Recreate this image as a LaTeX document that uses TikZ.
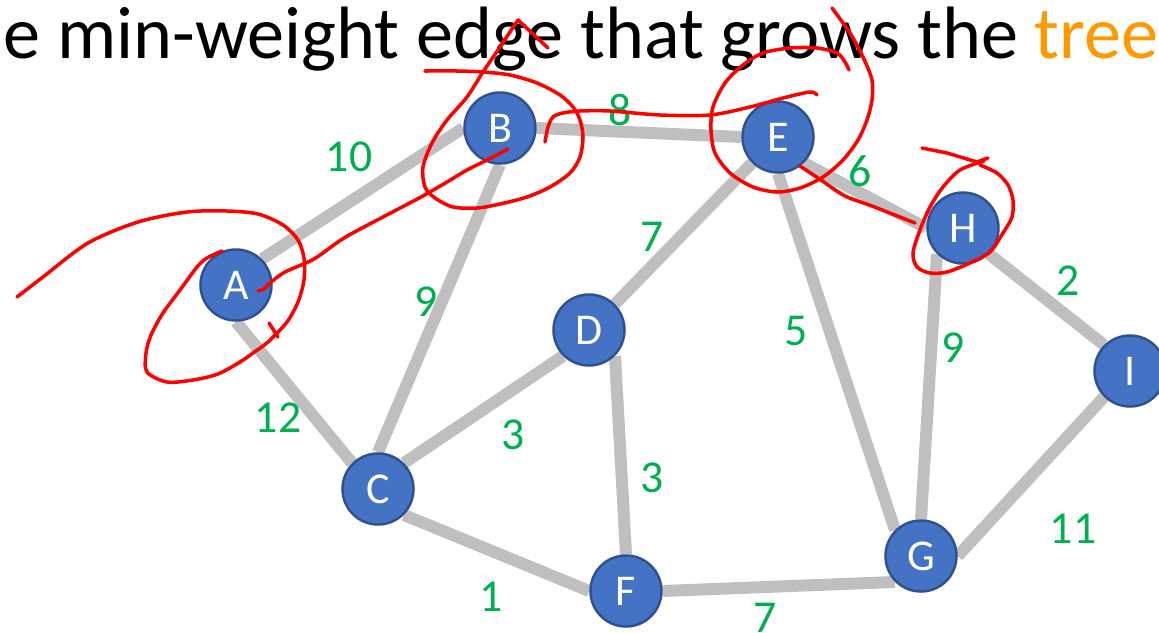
\documentclass[tikz,border=0pt]{standalone}
\usepackage{fontspec}
\setmainfont{Carlito}
\usetikzlibrary{backgrounds}
\definecolor{nodeblue}{HTML}{4472C4}
\definecolor{nodeline}{HTML}{2F528F}
\definecolor{edgegray}{HTML}{BFBFBF}
\definecolor{weightgreen}{HTML}{00B050}
\definecolor{treeorange}{HTML}{FF9900}

\begin{document}
\begin{tikzpicture}[x=0.01cm, y=-0.01cm,
	v/.style={draw=nodeline, line width=0.7pt, circle, fill=nodeblue, text=white, minimum size=7.1mm, inner sep=0pt, font=\fontsize{12.5}{14}\selectfont},
	w/.style={text=weightgreen, inner sep=0pt, font=\fontsize{13}{15}\selectfont},
	e/.style={edgegray, line width=3.4pt},
	ink/.style={red, line width=1pt, line cap=round, line join=round}]
	\useasboundingbox (0,0) rectangle (1159,633);
	\node[anchor=base west, inner sep=0pt, font=\fontsize{21.1}{25}\selectfont] (title) at (3,58) {e min-weight edge that grows the \textcolor{treeorange}{tree}};
	% vertices
	\node[v] (A) at (236,285) {A};
	\node[v] (B) at (500,128) {B};
	\node[v] (C) at (378,489) {C};
	\node[v] (D) at (589,330) {D};
	\node[v] (E) at (778,137) {E};
	\node[v] (F) at (626,591) {F};
	\node[v] (G) at (921,556) {G};
	\node[v] (H) at (963,228) {H};
	\node[v] (I) at (1130,371) {I};
	% edges
	\begin{scope}[on background layer]
	\draw[e] (A.north east) -- (B.west);
	\draw[e] (B.east) -- (E.west);
	\draw[e] (A.south) -- (C.north west);
	\draw[e] (B.south) -- (C.north);
	\draw[e] (C.north east) -- (D.south west);
	\draw[e] (D.north east) -- (E.south west);
	\draw[e] (D.south east) -- (F.north);
	\draw[e] (C.south east) -- (F.west);
	\draw[e] (F.east) -- (G.south west);
	\draw[e] (E.south) -- (G.north west);
	\draw[e] (E.south east) -- (H.west);
	\draw[e] (H.south west) -- (G.north);
	\draw[e] (H.south east) -- (I.north west);
	\draw[e] (G.east) -- (I.south west);
	\end{scope}
	% weights
	\node[w] (wAB) at (349,157) {10};
	\node[w] (wBE) at (620,110) {8};
	\node[w] (wAC) at (278,418) {12};
	\node[w] (wBC) at (426,302) {9};
	\node[w] (wCD) at (513,435) {3};
	\node[w] (wDF) at (652,478) {3};
	\node[w] (wCF) at (491,597) {1};
	\node[w] (wFG) at (765,618) {7};
	\node[w] (wDE) at (652,237) {7};
	\node[w] (wEG) at (796,331) {5};
	\node[w] (wEH) at (860,171) {6};
	\node[w] (wHG) at (953,348) {9};
	\node[w] (wHI) at (1068,281) {2};
	\node[w] (wGI) at (1073,529) {11};
	% red ink
	\draw[ink] plot[smooth] coordinates {(17,297) (43,277) (88,243) (138,222) (187,212) (227,211) (258,214) (283,225) (298,240) (304,258) (304,280) (298,302) (287,322) (268,342) (253,353) (240,362) (218,374) (193,380) (167,382) (147,372) (146,353) (151,335) (163,313) (180,290) (197,267) (207,258) (222,251)};
	\draw[ink] (269,323) -- (278,337);
	\draw[ink] plot[smooth] coordinates {(258,291) (264,289) (270,283) (285,272) (314,259) (344,238) (383,217) (421,197) (447,182) (467,170) (487,160) (508,149)};
	\draw[ink] (548,48) -- (518,20) -- plot[smooth] coordinates {(500,47) (483,72) (467,97) (447,120) (432,143) (423,167) (425,187) (435,198) (453,207) (477,208) (500,204) (527,197) (550,187) (570,173) (580,157) (583,137) (580,120) (573,107) (560,95) (537,83) (510,75) (483,72) (457,71) (425,71)};
	\draw[ink] plot[smooth] coordinates {(545,142) (548,127) (553,117) (563,113) (580,111) (610,111) (660,115) (710,115) (750,107) (783,98) (810,92) (817,95)};
	\draw[ink] plot[smooth] coordinates {(832,8) (850,33) (863,57) (872,80) (872,100) (867,120) (858,140) (843,160) (823,177) (800,188) (777,192) (753,187) (730,173) (715,153) (711,130) (713,107) (725,83) (743,65) (763,53) (790,48) (817,48) (837,53) (845,62) (849,70)};
	\draw[ink] plot[smooth] coordinates {(800,166) (821,180) (845,196) (872,206) (915,223)};
	\draw[ink] (922,148) -- (947,153) -- (977,162) -- (988,158);
	\draw[ink] plot[smooth] coordinates {(984,161) (960,170) (943,187) (930,207) (920,230) (913,253) (917,267) (930,273) (947,272) (970,263) (990,252) (1003,233) (1012,217) (1013,200) (1008,185) (997,173) (980,165)};
\end{tikzpicture}
\end{document}
